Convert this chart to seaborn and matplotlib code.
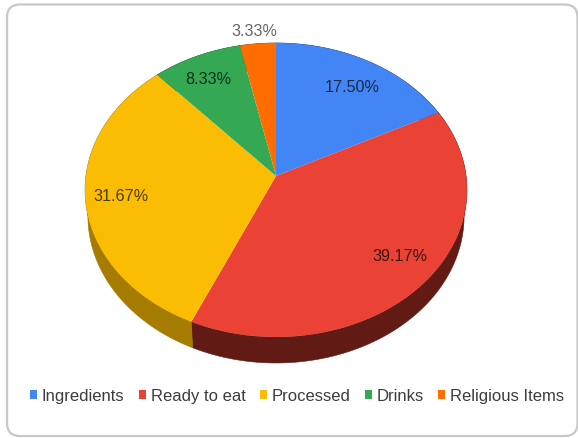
import numpy as np
import matplotlib
matplotlib.use("Agg")
import matplotlib.pyplot as plt
import seaborn as sns
from matplotlib.patches import FancyBboxPatch, Polygon
from matplotlib.transforms import Transform

categories = ["Ingredients", "Ready to eat", "Processed", "Drinks", "Religious Items"]
shares = [17.50, 39.17, 31.67, 8.33, 3.33]
top_colors = ["#4285F4", "#EA4335", "#FBBC04", "#34A853", "#FF6D01"]
side_colors = ["#214279", "#621A14", "#A67C00", "#1A5429", "#803700"]
label_xy = [(352, 87), (400, 257), (121, 197), (208, 79), (254, 32)]
label_colors = ["#1c2a44", "#3a1410", "#4a3a08", "#10301a", "#666666"]

sns.set_theme(style="white")
plt.rcParams["font.family"] = ["Liberation Sans", "DejaVu Sans"]

CX, CY = 276.0, 177.0
A, B, K = 190.1, 145.7, 0.095
DEPTH = 26.0
BASE_SHRINK = 0.985


def project(uv):
    """Tilt the unit disc toward the viewer, giving canvas pixel positions."""
    uv = np.asarray(uv, dtype=float)
    w = 1 + K * uv[..., 1]
    return np.stack([CX + A * uv[..., 0] / w, CY - B * uv[..., 1] / w], axis=-1)


class TiltTransform(Transform):
    input_dims = output_dims = 2

    def transform_non_affine(self, values):
        return project(values)


fig = plt.figure(figsize=(5.78, 4.39), dpi=100)
ax = fig.add_axes([0, 0, 1, 1])

# Card behind the chart
ax.add_patch(FancyBboxPatch((7, 5.5), 570.5, 431.5, boxstyle="round,pad=0,rounding_size=13",
                            facecolor="white", edgecolor="#c8c8c8", linewidth=1.6, zorder=0))

wedges, _ = ax.pie(shares, startangle=90, counterclock=False, colors=top_colors,
                   normalize=True, frame=True)
ax.set_aspect("auto")
ax.set_xlim(0, 578)
ax.set_ylim(439, 0)
ax.axis("off")

tilt = TiltTransform() + ax.transData
for wedge in wedges:
    wedge.set_transform(tilt)
    wedge.set_linewidth(0)
    wedge.set_zorder(3)

# Rim of the disc, one band per slice; the far base is a touch narrower
for wedge, dark in zip(wedges, side_colors):
    theta = np.radians(np.linspace(wedge.theta1, wedge.theta2, 120))
    edge = project(np.column_stack([np.cos(theta), np.sin(theta)]))
    lower = edge + [0, DEPTH]
    lower[:, 0] = CX + (lower[:, 0] - CX) * BASE_SHRINK
    ax.add_patch(Polygon(np.vstack([edge, lower[::-1]]), closed=True,
                         facecolor=dark, edgecolor=dark, linewidth=0.4, zorder=2))

for share, (x, y), color in zip(shares, label_xy, label_colors):
    ax.text(x, y, f"{share:.2f}%", ha="center", va="center", fontsize=11.6,
            color=color, zorder=4)

ax.legend(wedges, categories, loc="center", bbox_to_anchor=(297 / 578, 1 - 397 / 439),
          ncol=5, frameon=False, fontsize=12, labelcolor="#3c3c3c", handlelength=0.42,
          handleheight=0.42, handletextpad=0.3, columnspacing=0.85, borderpad=0)

fig.savefig("out.png", dpi=100)
